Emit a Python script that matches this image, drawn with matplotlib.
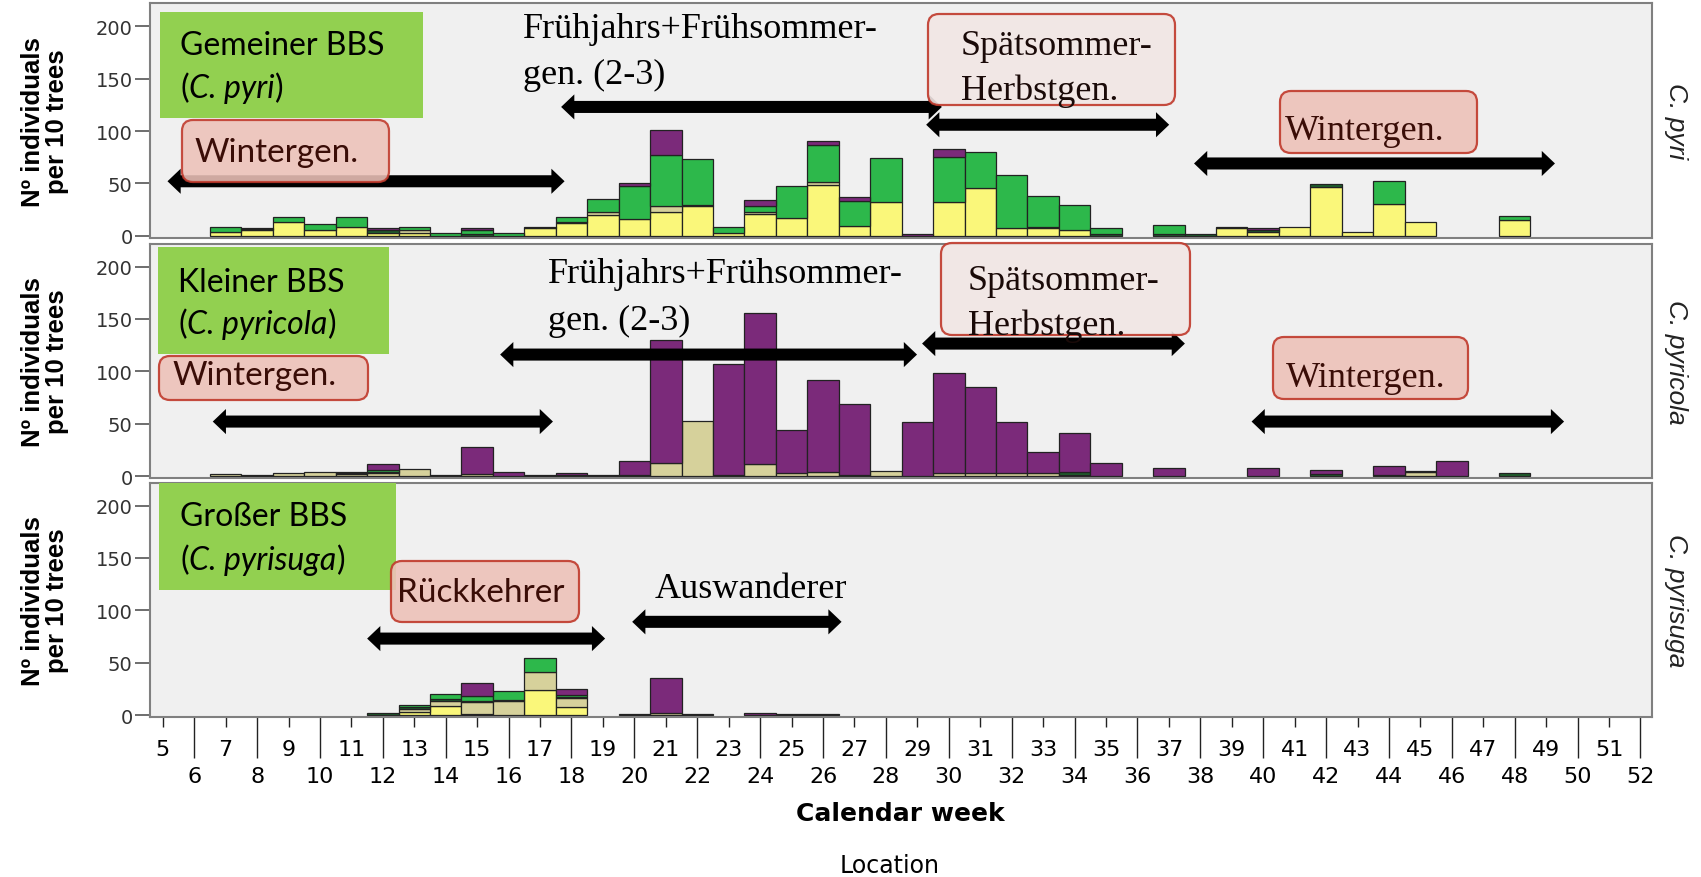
import matplotlib
matplotlib.use("Agg")
import matplotlib.pyplot as plt
from matplotlib.patches import FancyBboxPatch, Polygon
import numpy as np

plt.rcParams['font.family'] = ['DejaVu Sans']

# ---------------- data ----------------
weeks = list(range(5, 53))
y_ticks = [0, 50, 100, 150, 200]
panel_names = ["C. pyri", "C. pyricola", "C. pyrisuga"]
location_colors = ["#FAF77A", "#D6D19B", "#1F5F2C", "#2DB84B", "#7B2A7A"]

# C. pyri (weeks 5..52), one list per location
pyri_loc1 = [0, 0, 4, 5, 13.5, 5, 8.5, 3, 2.5, 0,
             0, 0, 7, 12, 19.5, 15.5, 23, 28, 3, 21,
             17, 48, 9.7, 32, 0, 32, 46, 7, 7, 5,
             0, 0, 0, 0, 7, 4, 8, 47, 4, 30,
             13.5, 0, 0, 15, 0, 0, 0, 0]
pyri_loc2 = [0, 0, 0, 0, 0, 0, 0, 0, 3, 0,
             0, 0, 0, 0, 3, 0, 5, 0, 0, 2,
             0, 3.5, 0, 0, 0, 0, 0, 0, 0, 0,
             0, 0, 0, 0, 0, 0, 0, 0, 0, 0,
             0, 0, 0, 0, 0, 0, 0, 0]
pyri_loc3 = [0, 0, 0, 1, 0, 0, 0, 2, 0, 0,
             2, 0, 1, 1, 0, 0, 0, 1, 0, 0,
             0, 0, 0, 0, 0, 0, 0, 0, 1, 0,
             2, 0, 2, 1.2, 1, 1, 0, 2, 0, 0,
             0, 0, 0, 0, 0, 0, 0, 0]
pyri_loc4 = [0, 0, 4, 1, 4, 6, 9, 0, 2.5, 3,
             3.5, 3, 0, 4.5, 12.5, 32, 49, 44.5, 5, 5,
             30.5, 35, 23.5, 42, 0, 43, 34, 51, 30, 24,
             5, 0, 8, 0, 0, 0, 0, 0, 0, 22.5,
             0, 0, 0, 4, 0, 0, 0, 0]
pyri_loc5 = [0, 0, 0, 0, 0, 0, 0, 2.5, 0, 0,
             2, 0, 0, 0, 0, 2.5, 23.5, 0, 0, 6.5,
             0, 4, 3.8, 0, 1.5, 8, 0, 0, 0, 0,
             0, 0, 0, 0, 0, 2, 0, 0, 0, 0,
             0, 0, 0, 0, 0, 0, 0, 0]

# C. pyricola
pyricola_loc1 = [0] * 48
pyricola_loc2 = [0, 0, 2, 0, 3, 4, 2, 3, 7, 0,
                 2, 0, 0, 0, 0, 0, 12.5, 53, 0, 11,
                 2.5, 3.5, 0, 5, 0, 3, 3, 3, 3, 1,
                 0, 0, 0, 0, 0, 0, 0, 0, 0, 0,
                 4, 0, 0, 0, 0, 0, 0, 0]
pyricola_loc3 = [0, 0, 0, 1, 0, 0, 1, 1, 0, 1,
                 0, 0, 0.5, 1, 0.5, 1, 0, 0, 1, 0,
                 0, 0, 1, 0, 0, 0, 0, 0, 0, 3,
                 0, 0, 0, 0, 0, 0, 0, 1.5, 0, 1,
                 1, 0, 0, 3, 0, 0, 0, 0]
pyricola_loc4 = [0, 0, 0, 0, 0, 0, 1, 2, 0, 0,
                 0, 0, 0, 0, 0, 0, 0, 0, 0, 0,
                 0, 0, 0, 0, 0, 0, 0, 0, 0, 0,
                 0, 0, 0, 0, 0, 0, 0, 0, 0, 0,
                 0, 0, 0, 0, 0, 0, 0, 0]
pyricola_loc5 = [0, 0, 0, 0, 0, 0, 0, 5, 0, 0,
                 26, 4, 0, 2, 0, 13, 117.5, 0, 106, 145,
                 41, 88, 68, 0, 52, 95, 82, 49, 20, 37,
                 12, 0, 8, 0, 0, 8, 0, 4, 0, 9,
                 0, 14, 0, 0, 0, 0, 0, 0]

# C. pyrisuga
pyrisuga_loc1 = [0, 0, 0, 0, 0, 0, 0, 0, 3, 8.5,
                 1, 0, 24, 8, 0, 0, 0, 0, 0, 0,
                 0, 0, 0, 0, 0, 0, 0, 0, 0, 0,
                 0, 0, 0, 0, 0, 0, 0, 0, 0, 0,
                 0, 0, 0, 0, 0, 0, 0, 0]
pyrisuga_loc2 = [0, 0, 0, 0, 0, 0, 0, 0, 3, 5,
                 11, 13.5, 17, 8, 0, 0, 2, 0, 0, 0,
                 0, 0, 0, 0, 0, 0, 0, 0, 0, 0,
                 0, 0, 0, 0, 0, 0, 0, 0, 0, 0,
                 0, 0, 0, 0, 0, 0, 0, 0]
pyrisuga_loc3 = [0, 0, 0, 0, 0, 0, 0, 1.5, 1.5, 1.5,
                 1, 1, 0, 1.5, 0, 1, 0, 0.5, 0, 0,
                 0.5, 0.5, 0, 0, 0, 0, 0, 0, 0, 0,
                 0, 0, 0, 0, 0, 0, 0, 0, 0, 0,
                 0, 0, 0, 0, 0, 0, 0, 0]
pyrisuga_loc4 = [0, 0, 0, 0, 0, 0, 0, 0, 2, 5,
                 5, 8.5, 13, 1.5, 0, 0, 0, 0, 0, 0,
                 0, 0, 0, 0, 0, 0, 0, 0, 0, 0,
                 0, 0, 0, 0, 0, 0, 0, 0, 0, 0,
                 0, 0, 0, 0, 0, 0, 0, 0]
pyrisuga_loc5 = [0, 0, 0, 0, 0, 0, 0, 0, 0, 0,
                 13, 0, 0, 6, 0, 0, 33, 0, 0, 1.5,
                 0, 0, 0, 0, 0, 0, 0, 0, 0, 0,
                 0, 0, 0, 0, 0, 0, 0, 0, 0, 0,
                 0, 0, 0, 0, 0, 0, 0, 0]

series = [
    [pyri_loc1, pyri_loc2, pyri_loc3, pyri_loc4, pyri_loc5],
    [pyricola_loc1, pyricola_loc2, pyricola_loc3, pyricola_loc4, pyricola_loc5],
    [pyrisuga_loc1, pyrisuga_loc2, pyrisuga_loc3, pyrisuga_loc4, pyrisuga_loc5],
]

# generation arrows (start week, end week, level)
arrows = [
    [(5.15, 17.78, 52), (17.67, 29.78, 123), (29.28, 37.01, 106), (37.8, 49.28, 69)],
    [(6.59, 17.41, 52), (15.73, 28.99, 116), (29.15, 37.51, 126.5), (39.63, 49.57, 52)],
    [(11.5, 19.07, 73), (19.93, 26.59, 89)],
]

# ---------------- figure ----------------
W, H = 1701, 878
fig = plt.figure(figsize=(W / 100, H / 100), dpi=100)

def fx(px):
    return px / W

def fy(py):
    return 1 - py / H

left, width, height = 150 / W, (1652 - 150) / W, 234.5 / H
bottoms = [1 - 238.8 / H, 1 - 479.1 / H, 1 - 718.1 / H]
axes = [fig.add_axes([left, b, width, height]) for b in bottoms]

def double_arrow(ax, x0, x1, y, w=11.5, hw=24.0, hl=0.42):
    pts = [(x0, y), (x0 + hl, y + hw / 2), (x0 + hl, y + w / 2),
           (x1 - hl, y + w / 2), (x1 - hl, y + hw / 2), (x1, y),
           (x1 - hl, y - hw / 2), (x1 - hl, y - w / 2),
           (x0 + hl, y - w / 2), (x0 + hl, y - hw / 2)]
    ax.add_patch(Polygon(pts, closed=True, facecolor='black', edgecolor='none',
                         zorder=3))

wk = np.array(weeks)
for i, ax in enumerate(axes):
    ax.set_facecolor('#F0F0F0')
    bottom = np.zeros(len(weeks))
    for vals, col in zip(series[i], location_colors):
        v = np.array(vals, float)
        m = v > 0
        ax.bar(wk[m], v[m], bottom=bottom[m], width=1.0, color=col,
               edgecolor='#222222', linewidth=0.9, zorder=2)
        bottom += v
    for (x0, x1, y) in arrows[i]:
        double_arrow(ax, x0, x1, y)
    ax.set_xlim(4.594, 52.366)
    ax.set_ylim(-2, 222)
    ax.set_yticks(y_ticks)
    ax.set_yticklabels([str(t) for t in y_ticks])
    ax.tick_params(axis='y', length=11, width=1.2, pad=1.5, labelsize=14,
                   labelcolor='#333333', color='#555555')
    for s in ax.spines.values():
        s.set_color('#808080')
        s.set_linewidth(1.5)
    ax.text(1.016, 0.5, panel_names[i], rotation=-90, ha='center', va='center',
            transform=ax.transAxes, fontsize=19, style='italic',
            family='Liberation Sans', color='#222222')
    ax.set_xticks([])

ax3 = axes[2]
even_w = [w for w in weeks if w % 2 == 0]
odd_w = [w for w in weeks if w % 2 == 1]
ax3.set_xticks(even_w)
ax3.set_xticklabels([str(w) for w in even_w])
ax3.set_xticks(odd_w, minor=True)
ax3.set_xticklabels([str(w) for w in odd_w], minor=True)
ax3.tick_params(axis='x', which='major', length=29.5, pad=5.5, labelsize=16,
                width=1.0, color='#222222')
ax3.tick_params(axis='x', which='minor', length=7, pad=9, labelsize=16,
                width=1.0, color='#222222')

# y labels
for yc in [122, 362, 601]:
    fig.text(fx(45), fy(yc), 'Nº individuals\nper 10 trees', rotation=90,
             ha='center', va='center', multialignment='center',
             fontsize=18.5, fontweight='bold', family='Liberation Sans',
             linespacing=1.05)

fig.text(fx(900), fy(814), 'Calendar week', ha='center', va='center',
         fontsize=18, fontweight='bold')
fig.text(fx(890), fy(866), 'Location', ha='center', va='center', fontsize=17)

# ---------------- annotation boxes ----------------
ASP = W / H
renderer = fig.canvas.get_renderer()

def box(x0, y0, x1, y1, fc, ec=None, alpha=1.0, rounded=True):
    if rounded:
        style = 'round,pad=0,rounding_size=%f' % (11 / W)
    else:
        style = 'square,pad=0'
    p = FancyBboxPatch((fx(x0), fy(y1)), fx(x1) - fx(x0), fy(y0) - fy(y1),
                       boxstyle=style, mutation_aspect=ASP,
                       facecolor=fc, edgecolor=ec if ec else 'none',
                       linewidth=1.6 if ec else 0, alpha=alpha,
                       transform=fig.transFigure, zorder=10)
    fig.add_artist(p)

def label(px, py, s, font, size, color='black', style='normal'):
    return fig.text(fx(px), fy(py), s, ha='left', va='baseline', family=font,
                    fontsize=size, color=color, style=style, zorder=11)

def label_parts(px, py, parts, font, size):
    x = px
    for s, st in parts:
        t = label(x, py, s, font, size, style=st)
        x = t.get_window_extent(renderer=renderer).x1 + (1 if st == 'italic' else 0)

GREEN = '#92D050'
PINK = '#EDC2B9'
PALE = '#F2E6E4'
RED = '#C0392B'
BROWN = '#3A0D07'
SANS = 'Lato'
SERIF = 'Liberation Serif'

# panel 1
box(160, 13, 423, 119, GREEN, rounded=False)
label(180, 55, 'Gemeiner BBS', SANS, 23)
label_parts(180, 98, [('(', 'normal'), ('C. pyri', 'italic'), (')', 'normal')], SANS, 23)
box(182, 121, 389, 183, PINK, RED, alpha=0.88)
label(194, 162, 'Wintergen.', SANS, 24, BROWN)
label(523, 38, 'Frühjahrs+Frühsommer-', SERIF, 26)
label(523, 84, 'gen. (2-3)', SERIF, 26)
box(928, 15, 1175, 106, PALE, RED, alpha=0.9)
label(961, 55, 'Spätsommer-', SERIF, 26, '#1a0a08')
label(961, 100, 'Herbstgen.', SERIF, 26, '#1a0a08')
box(1280, 92, 1477, 154, PINK, RED, alpha=0.9)
label(1285, 140, 'Wintergen.', SERIF, 26, BROWN)

# panel 2
box(158, 248, 389, 355, GREEN, rounded=False)
label(178, 292, 'Kleiner BBS', SANS, 23)
label_parts(178, 334, [('(', 'normal'), ('C. pyricola', 'italic'), (')', 'normal')], SANS, 23)
box(159, 357, 368, 401, PINK, RED, alpha=0.9)
label(172, 385, 'Wintergen.', SANS, 24, BROWN)
label(548, 283, 'Frühjahrs+Frühsommer-', SERIF, 26)
label(548, 330, 'gen. (2-3)', SERIF, 26)
box(941, 244, 1190, 336, PALE, RED, alpha=0.9)
label(968, 290, 'Spätsommer-', SERIF, 26, '#1a0a08')
label(968, 335, 'Herbstgen.', SERIF, 26, '#1a0a08')
box(1273, 338, 1468, 400, PINK, RED, alpha=0.9)
label(1286, 387, 'Wintergen.', SERIF, 26, BROWN)

# panel 3
box(159, 484, 396, 591, GREEN, rounded=False)
label(180, 526, 'Großer BBS', SANS, 23)
label_parts(180, 570, [('(', 'normal'), ('C. pyrisuga', 'italic'), (')', 'normal')], SANS, 23)
box(391, 562, 579, 623, PINK, RED, alpha=0.9)
label(397, 602, 'Rückkehrer', SANS, 24, BROWN)
label(655, 598, 'Auswanderer', SERIF, 26)

fig.savefig('out.png', dpi=100)
